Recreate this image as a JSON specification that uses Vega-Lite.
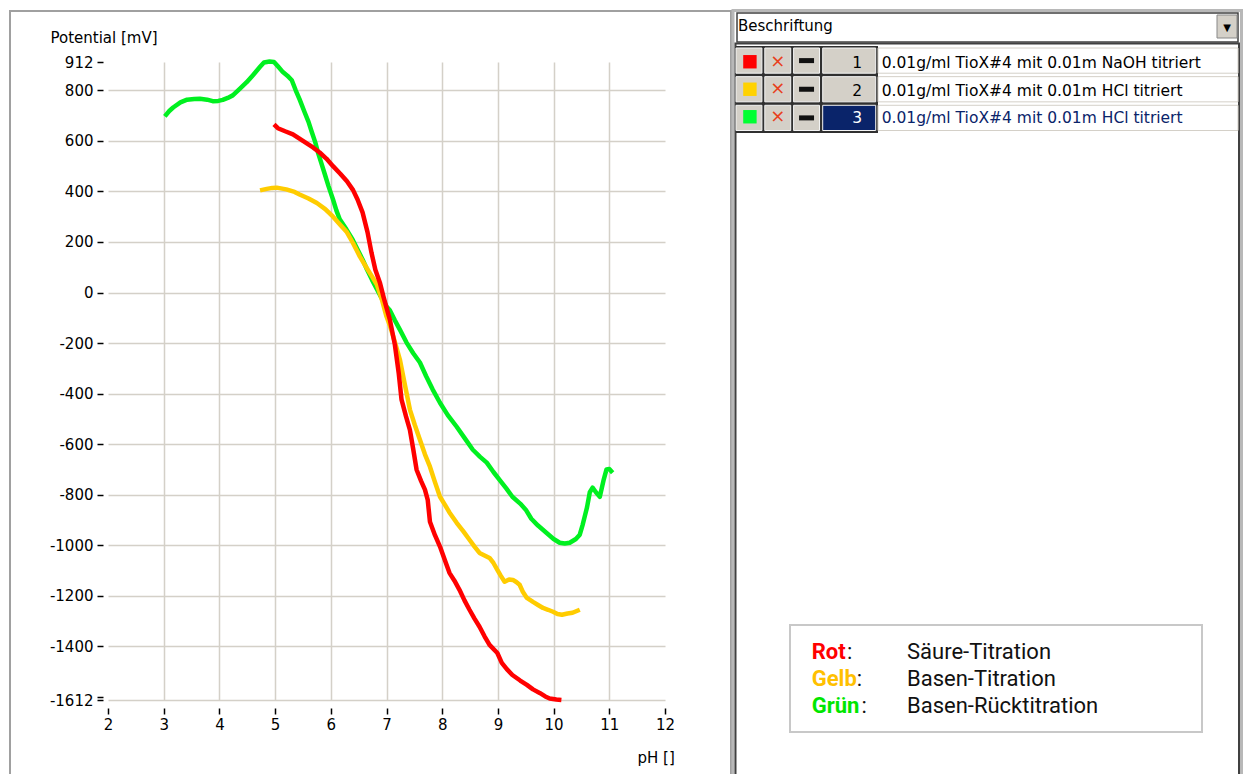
{
  "$schema": "https://vega.github.io/schema/vega-lite/v6.json",
  "autosize": {"type": "none"},
  "width": 557,
  "height": 638,
  "padding": {"left": 108, "top": 62, "right": 585, "bottom": 74},
  "background": "white",
  "config": {"view": {"stroke": null}, "font": "DejaVu Sans"},
  "datasets": {
    "messung": [
      {"Kurve":"Grün","pH":3.02,"Potential":697},{"Kurve":"Grün","pH":3.1,"Potential":718},{"Kurve":"Grün","pH":3.17,"Potential":732},{"Kurve":"Grün","pH":3.3,"Potential":752},{"Kurve":"Grün","pH":3.42,"Potential":763},{"Kurve":"Grün","pH":3.55,"Potential":766},{"Kurve":"Grün","pH":3.65,"Potential":767},{"Kurve":"Grün","pH":3.78,"Potential":763},{"Kurve":"Grün","pH":3.88,"Potential":757},{"Kurve":"Grün","pH":3.98,"Potential":758},{"Kurve":"Grün","pH":4.06,"Potential":762},{"Kurve":"Grün","pH":4.15,"Potential":770},{"Kurve":"Grün","pH":4.24,"Potential":780},{"Kurve":"Grün","pH":4.36,"Potential":805},{"Kurve":"Grün","pH":4.49,"Potential":832},{"Kurve":"Grün","pH":4.61,"Potential":862},{"Kurve":"Grün","pH":4.73,"Potential":893},{"Kurve":"Grün","pH":4.8,"Potential":910},{"Kurve":"Grün","pH":4.9,"Potential":914},{"Kurve":"Grün","pH":4.98,"Potential":912},{"Kurve":"Grün","pH":5.05,"Potential":895},{"Kurve":"Grün","pH":5.14,"Potential":872},{"Kurve":"Grün","pH":5.22,"Potential":858},{"Kurve":"Grün","pH":5.3,"Potential":840},{"Kurve":"Grün","pH":5.37,"Potential":800},{"Kurve":"Grün","pH":5.44,"Potential":764},{"Kurve":"Grün","pH":5.53,"Potential":713},{"Kurve":"Grün","pH":5.6,"Potential":675},{"Kurve":"Grün","pH":5.66,"Potential":634},{"Kurve":"Grün","pH":5.72,"Potential":595},{"Kurve":"Grün","pH":5.77,"Potential":554},{"Kurve":"Grün","pH":5.83,"Potential":512},{"Kurve":"Grün","pH":5.89,"Potential":470},{"Kurve":"Grün","pH":5.96,"Potential":420},{"Kurve":"Grün","pH":6.04,"Potential":368},{"Kurve":"Grün","pH":6.1,"Potential":325},{"Kurve":"Grün","pH":6.16,"Potential":290},{"Kurve":"Grün","pH":6.28,"Potential":250},{"Kurve":"Grün","pH":6.39,"Potential":210},{"Kurve":"Grün","pH":6.48,"Potential":170},{"Kurve":"Grün","pH":6.57,"Potential":131},{"Kurve":"Grün","pH":6.65,"Potential":91},{"Kurve":"Grün","pH":6.74,"Potential":50},{"Kurve":"Grün","pH":6.83,"Potential":12},{"Kurve":"Grün","pH":6.92,"Potential":-25},{"Kurve":"Grün","pH":7.0,"Potential":-55},{"Kurve":"Grün","pH":7.06,"Potential":-70},{"Kurve":"Grün","pH":7.15,"Potential":-110},{"Kurve":"Grün","pH":7.24,"Potential":-147},{"Kurve":"Grün","pH":7.36,"Potential":-198},{"Kurve":"Grün","pH":7.48,"Potential":-240},{"Kurve":"Grün","pH":7.6,"Potential":-277},{"Kurve":"Grün","pH":7.71,"Potential":-330},{"Kurve":"Grün","pH":7.83,"Potential":-384},{"Kurve":"Grün","pH":7.96,"Potential":-436},{"Kurve":"Grün","pH":8.1,"Potential":-485},{"Kurve":"Grün","pH":8.26,"Potential":-531},{"Kurve":"Grün","pH":8.4,"Potential":-575},{"Kurve":"Grün","pH":8.55,"Potential":-622},{"Kurve":"Grün","pH":8.68,"Potential":-650},{"Kurve":"Grün","pH":8.8,"Potential":-673},{"Kurve":"Grün","pH":8.92,"Potential":-710},{"Kurve":"Grün","pH":9.03,"Potential":-741},{"Kurve":"Grün","pH":9.15,"Potential":-775},{"Kurve":"Grün","pH":9.26,"Potential":-808},{"Kurve":"Grün","pH":9.4,"Potential":-835},{"Kurve":"Grün","pH":9.5,"Potential":-859},{"Kurve":"Grün","pH":9.6,"Potential":-895},{"Kurve":"Grün","pH":9.72,"Potential":-922},{"Kurve":"Grün","pH":9.87,"Potential":-950},{"Kurve":"Grün","pH":10.0,"Potential":-975},{"Kurve":"Grün","pH":10.11,"Potential":-990},{"Kurve":"Grün","pH":10.2,"Potential":-993},{"Kurve":"Grün","pH":10.29,"Potential":-990},{"Kurve":"Grün","pH":10.4,"Potential":-975},{"Kurve":"Grün","pH":10.47,"Potential":-958},{"Kurve":"Grün","pH":10.52,"Potential":-920},{"Kurve":"Grün","pH":10.56,"Potential":-885},{"Kurve":"Grün","pH":10.6,"Potential":-850},{"Kurve":"Grün","pH":10.65,"Potential":-790},{"Kurve":"Grün","pH":10.7,"Potential":-772},{"Kurve":"Grün","pH":10.76,"Potential":-790},{"Kurve":"Grün","pH":10.83,"Potential":-808},{"Kurve":"Grün","pH":10.9,"Potential":-740},{"Kurve":"Grün","pH":10.95,"Potential":-700},{"Kurve":"Grün","pH":11.0,"Potential":-698},{"Kurve":"Grün","pH":11.06,"Potential":-713},
      {"Kurve":"Gelb","pH":4.73,"Potential":404},{"Kurve":"Gelb","pH":4.85,"Potential":410},{"Kurve":"Gelb","pH":4.95,"Potential":414},{"Kurve":"Gelb","pH":5.03,"Potential":415},{"Kurve":"Gelb","pH":5.2,"Potential":408},{"Kurve":"Gelb","pH":5.35,"Potential":398},{"Kurve":"Gelb","pH":5.44,"Potential":388},{"Kurve":"Gelb","pH":5.6,"Potential":372},{"Kurve":"Gelb","pH":5.75,"Potential":354},{"Kurve":"Gelb","pH":5.9,"Potential":330},{"Kurve":"Gelb","pH":6.04,"Potential":300},{"Kurve":"Gelb","pH":6.16,"Potential":270},{"Kurve":"Gelb","pH":6.29,"Potential":238},{"Kurve":"Gelb","pH":6.4,"Potential":195},{"Kurve":"Gelb","pH":6.52,"Potential":143},{"Kurve":"Gelb","pH":6.65,"Potential":95},{"Kurve":"Gelb","pH":6.75,"Potential":60},{"Kurve":"Gelb","pH":6.83,"Potential":30},{"Kurve":"Gelb","pH":6.92,"Potential":-30},{"Kurve":"Gelb","pH":7.0,"Potential":-95},{"Kurve":"Gelb","pH":7.06,"Potential":-130},{"Kurve":"Gelb","pH":7.15,"Potential":-195},{"Kurve":"Gelb","pH":7.24,"Potential":-265},{"Kurve":"Gelb","pH":7.33,"Potential":-365},{"Kurve":"Gelb","pH":7.42,"Potential":-463},{"Kurve":"Gelb","pH":7.51,"Potential":-525},{"Kurve":"Gelb","pH":7.6,"Potential":-582},{"Kurve":"Gelb","pH":7.69,"Potential":-640},{"Kurve":"Gelb","pH":7.78,"Potential":-689},{"Kurve":"Gelb","pH":7.87,"Potential":-750},{"Kurve":"Gelb","pH":7.96,"Potential":-808},{"Kurve":"Gelb","pH":8.05,"Potential":-840},{"Kurve":"Gelb","pH":8.13,"Potential":-870},{"Kurve":"Gelb","pH":8.26,"Potential":-911},{"Kurve":"Gelb","pH":8.38,"Potential":-945},{"Kurve":"Gelb","pH":8.49,"Potential":-978},{"Kurve":"Gelb","pH":8.58,"Potential":-1005},{"Kurve":"Gelb","pH":8.67,"Potential":-1030},{"Kurve":"Gelb","pH":8.76,"Potential":-1040},{"Kurve":"Gelb","pH":8.85,"Potential":-1050},{"Kurve":"Gelb","pH":8.92,"Potential":-1070},{"Kurve":"Gelb","pH":8.99,"Potential":-1097},{"Kurve":"Gelb","pH":9.05,"Potential":-1120},{"Kurve":"Gelb","pH":9.12,"Potential":-1144},{"Kurve":"Gelb","pH":9.2,"Potential":-1135},{"Kurve":"Gelb","pH":9.27,"Potential":-1137},{"Kurve":"Gelb","pH":9.33,"Potential":-1145},{"Kurve":"Gelb","pH":9.39,"Potential":-1156},{"Kurve":"Gelb","pH":9.45,"Potential":-1185},{"Kurve":"Gelb","pH":9.52,"Potential":-1208},{"Kurve":"Gelb","pH":9.63,"Potential":-1224},{"Kurve":"Gelb","pH":9.72,"Potential":-1236},{"Kurve":"Gelb","pH":9.81,"Potential":-1248},{"Kurve":"Gelb","pH":9.9,"Potential":-1255},{"Kurve":"Gelb","pH":9.99,"Potential":-1263},{"Kurve":"Gelb","pH":10.07,"Potential":-1272},{"Kurve":"Gelb","pH":10.15,"Potential":-1275},{"Kurve":"Gelb","pH":10.25,"Potential":-1270},{"Kurve":"Gelb","pH":10.34,"Potential":-1267},{"Kurve":"Gelb","pH":10.47,"Potential":-1255},
      {"Kurve":"Rot","pH":4.98,"Potential":665},{"Kurve":"Rot","pH":5.05,"Potential":650},{"Kurve":"Rot","pH":5.18,"Potential":638},{"Kurve":"Rot","pH":5.32,"Potential":626},{"Kurve":"Rot","pH":5.5,"Potential":600},{"Kurve":"Rot","pH":5.68,"Potential":574},{"Kurve":"Rot","pH":5.8,"Potential":554},{"Kurve":"Rot","pH":5.92,"Potential":530},{"Kurve":"Rot","pH":6.04,"Potential":500},{"Kurve":"Rot","pH":6.17,"Potential":470},{"Kurve":"Rot","pH":6.29,"Potential":440},{"Kurve":"Rot","pH":6.4,"Potential":405},{"Kurve":"Rot","pH":6.48,"Potential":368},{"Kurve":"Rot","pH":6.57,"Potential":317},{"Kurve":"Rot","pH":6.66,"Potential":238},{"Kurve":"Rot","pH":6.73,"Potential":158},{"Kurve":"Rot","pH":6.8,"Potential":90},{"Kurve":"Rot","pH":6.88,"Potential":40},{"Kurve":"Rot","pH":6.95,"Potential":-20},{"Kurve":"Rot","pH":7.06,"Potential":-107},{"Kurve":"Rot","pH":7.15,"Potential":-206},{"Kurve":"Rot","pH":7.22,"Potential":-320},{"Kurve":"Rot","pH":7.27,"Potential":-424},{"Kurve":"Rot","pH":7.35,"Potential":-490},{"Kurve":"Rot","pH":7.42,"Potential":-543},{"Kurve":"Rot","pH":7.48,"Potential":-620},{"Kurve":"Rot","pH":7.54,"Potential":-701},{"Kurve":"Rot","pH":7.62,"Potential":-745},{"Kurve":"Rot","pH":7.69,"Potential":-780},{"Kurve":"Rot","pH":7.74,"Potential":-820},{"Kurve":"Rot","pH":7.78,"Potential":-907},{"Kurve":"Rot","pH":7.87,"Potential":-960},{"Kurve":"Rot","pH":7.96,"Potential":-1005},{"Kurve":"Rot","pH":8.05,"Potential":-1060},{"Kurve":"Rot","pH":8.13,"Potential":-1109},{"Kurve":"Rot","pH":8.22,"Potential":-1140},{"Kurve":"Rot","pH":8.31,"Potential":-1176},{"Kurve":"Rot","pH":8.4,"Potential":-1218},{"Kurve":"Rot","pH":8.49,"Potential":-1255},{"Kurve":"Rot","pH":8.58,"Potential":-1290},{"Kurve":"Rot","pH":8.67,"Potential":-1322},{"Kurve":"Rot","pH":8.76,"Potential":-1360},{"Kurve":"Rot","pH":8.85,"Potential":-1394},{"Kurve":"Rot","pH":8.99,"Potential":-1426},{"Kurve":"Rot","pH":9.07,"Potential":-1465},{"Kurve":"Rot","pH":9.16,"Potential":-1490},{"Kurve":"Rot","pH":9.26,"Potential":-1513},{"Kurve":"Rot","pH":9.4,"Potential":-1535},{"Kurve":"Rot","pH":9.52,"Potential":-1552},{"Kurve":"Rot","pH":9.63,"Potential":-1570},{"Kurve":"Rot","pH":9.75,"Potential":-1584},{"Kurve":"Rot","pH":9.85,"Potential":-1598},{"Kurve":"Rot","pH":9.93,"Potential":-1606},{"Kurve":"Rot","pH":10.05,"Potential":-1610},{"Kurve":"Rot","pH":10.14,"Potential":-1612}
    ],
    "tabelle": [
      {"nr":"1","text":"0.01g/ml TioX#4 mit 0.01m NaOH titriert","kurve":"Rot"},
      {"nr":"2","text":"0.01g/ml TioX#4 mit 0.01m HCl titriert","kurve":"Gelb"},
      {"nr":"3","text":"0.01g/ml TioX#4 mit 0.01m HCl titriert","kurve":"Grün"}
    ],
    "knoepfe": [
      {"nr":"1","knopf":"Farbe"},{"nr":"1","knopf":"Löschen"},{"nr":"1","knopf":"Ausblenden"},
      {"nr":"2","knopf":"Farbe"},{"nr":"2","knopf":"Löschen"},{"nr":"2","knopf":"Ausblenden"},
      {"nr":"3","knopf":"Farbe"},{"nr":"3","knopf":"Löschen"},{"nr":"3","knopf":"Ausblenden"}
    ],
    "legende": [
      {"farbe":"Rot","beschreibung":"Säure-Titration"},
      {"farbe":"Gelb","beschreibung":"Basen-Titration"},
      {"farbe":"Grün","beschreibung":"Basen-Rücktitration"}
    ]
  },
  "resolve": {"scale": {"x": "independent", "y": "independent", "color": "independent", "stroke": "independent"}},
  "layer": [
    {
      "data": {"name": "messung"},
      "mark": {"type": "line", "strokeWidth": 4.5, "strokeJoin": "round", "strokeCap": "butt"},
      "encoding": {
        "x": {"field": "pH", "type": "quantitative",
          "scale": {"domain": [2, 12], "nice": false, "zero": false},
          "axis": {"orient": "bottom", "values": [2,3,4,5,6,7,8,9,10,11,12], "labelExpr": "'' + datum.value",
            "title": "pH []", "titleX": 529, "titleY": 54, "titleAlign": "left", "titleBaseline": "alphabetic",
            "titleFont": "DejaVu Sans", "titleFontSize": 15, "titleFontWeight": "normal", "titleColor": "#000",
            "offset": 8, "tickSize": 6, "tickWidth": 1.5, "tickColor": "#000", "domain": false,
            "labelPadding": 3, "labelFont": "DejaVu Sans", "labelFontSize": 15, "labelColor": "#000",
            "labelFlush": false, "labelOverlap": false, "labelBound": false,
            "grid": true, "gridColor": "#d4d0c8", "gridWidth": 1.5,
            "gridOpacity": {"condition": {"test": "datum.value == 2 || datum.value == 12", "value": 0}, "value": 1}}},
        "y": {"field": "Potential", "type": "quantitative",
          "scale": {"domain": [-1612, 912], "nice": false, "zero": false},
          "axis": {"orient": "left", "values": [912,800,600,400,200,0,-200,-400,-600,-800,-1000,-1200,-1400,-1600,-1612],
            "labelExpr": "datum.value == -1600 ? '' : '' + datum.value",
            "title": "Potential [mV]", "titleAngle": 0, "titleX": -53, "titleY": -20, "titleAlign": "left", "titleBaseline": "alphabetic",
            "titleFont": "DejaVu Sans", "titleFontSize": 15, "titleFontWeight": "normal", "titleColor": "#000",
            "offset": 5, "tickSize": 6, "tickWidth": 1.5, "tickColor": "#000", "domain": false,
            "labelPadding": 4, "labelFont": "DejaVu Sans", "labelFontSize": 15, "labelColor": "#000",
            "labelFlush": false, "labelOverlap": false, "labelBound": false,
            "grid": true, "gridColor": "#d4d0c8", "gridWidth": 1.5,
            "gridOpacity": {"condition": {"test": "datum.value == 912 || datum.value == -1600", "value": 0}, "value": 1}}},
        "color": {"field": "Kurve", "type": "nominal",
          "scale": {"domain": ["Rot", "Gelb", "Grün"], "range": ["#ff0000", "#ffcc00", "#00f020"]}, "legend": null}
      }
    },
    {
      "data": {"values": [{}]},
      "mark": {"type": "rect", "fill": "transparent", "stroke": "#a0a0a0", "strokeWidth": 2},
      "encoding": {
        "x": {"datum": "Diagrammbereich", "type": "nominal", "axis": null, "scale": {"range": [-98, 623], "paddingInner": 0, "paddingOuter": 0}},
        "y": {"datum": "Diagrammbereich", "type": "nominal", "axis": null, "scale": {"range": [-51, 738], "paddingInner": 0, "paddingOuter": 0}}
      }
    },
    {
      "data": {"values": [{}]},
      "mark": {"type": "rect", "fill": "transparent", "stroke": "#b8b8b8", "strokeWidth": 3},
      "encoding": {
        "x": {"datum": "Beschriftungsbereich", "type": "nominal", "axis": null, "scale": {"range": [625, 1133.5], "paddingInner": 0, "paddingOuter": 0}},
        "y": {"datum": "Beschriftungsbereich", "type": "nominal", "axis": null, "scale": {"range": [-51.5, 738], "paddingInner": 0, "paddingOuter": 0}}
      }
    },
    {
      "data": {"values": [{}]},
      "mark": {"type": "rect", "fill": "transparent", "stroke": "#404040", "strokeWidth": 2},
      "encoding": {
        "x": {"datum": "Liste", "type": "nominal", "axis": null, "scale": {"range": [627.5, 1131], "paddingInner": 0, "paddingOuter": 0}},
        "y": {"datum": "Liste", "type": "nominal", "axis": null, "scale": {"range": [-18.5, 738], "paddingInner": 0, "paddingOuter": 0}}
      }
    },
    {
      "data": {"values": [{}]},
      "mark": {"type": "rect", "fill": "white", "stroke": "#404040", "strokeWidth": 1.5},
      "encoding": {
        "x": {"datum": "Auswahl", "type": "nominal", "axis": null, "scale": {"range": [629, 1130], "paddingInner": 0, "paddingOuter": 0}},
        "y": {"datum": "Auswahl", "type": "nominal", "axis": null, "scale": {"range": [-49, -20], "paddingInner": 0, "paddingOuter": 0}}
      }
    },
    {
      "data": {"values": [{}]},
      "mark": {"type": "rect", "fill": "#d4d0c8", "stroke": "#888888", "strokeWidth": 1},
      "encoding": {
        "x": {"datum": "Knopf", "type": "nominal", "axis": null, "scale": {"range": [1109, 1129], "paddingInner": 0, "paddingOuter": 0}},
        "y": {"datum": "Knopf", "type": "nominal", "axis": null, "scale": {"range": [-47, -24], "paddingInner": 0, "paddingOuter": 0}}
      }
    },
    {
      "data": {"values": [{}]},
      "mark": {"type": "text", "text": "▼", "fontSize": 10, "color": "#000", "baseline": "middle", "align": "center"},
      "encoding": {
        "x": {"datum": "Knopf", "type": "nominal", "axis": null, "scale": {"range": [1118, 1120], "paddingInner": 0, "paddingOuter": 0}},
        "y": {"datum": "Knopf", "type": "nominal", "axis": null, "scale": {"range": [-35.5, -33.5], "paddingInner": 0, "paddingOuter": 0}}
      }
    },
    {
      "data": {"values": [{}]},
      "mark": {"type": "text", "text": "Beschriftung", "font": "DejaVu Sans", "fontSize": 15, "color": "#000", "baseline": "alphabetic", "align": "left"},
      "encoding": {
        "x": {"datum": "Auswahl", "type": "nominal", "axis": null, "scale": {"range": [629, 631], "paddingInner": 0, "paddingOuter": 0}},
        "y": {"datum": "Auswahl", "type": "nominal", "axis": null, "scale": {"range": [-32.3, -30.3], "paddingInner": 0, "paddingOuter": 0}}
      }
    },
    {
      "data": {"values": [{}]},
      "mark": {"type": "rect", "fill": "#303030"},
      "encoding": {
        "x": {"datum": "Tabelle", "type": "nominal", "axis": null, "scale": {"range": [628, 770], "paddingInner": 0, "paddingOuter": 0}},
        "y": {"datum": "Tabelle", "type": "nominal", "axis": null, "scale": {"range": [-16, 71], "paddingInner": 0, "paddingOuter": 0}}
      }
    },
    {
      "data": {"name": "tabelle"},
      "mark": {"type": "rect", "fill": "white", "stroke": "#d4d0c8", "strokeWidth": 1},
      "encoding": {
        "x": {"datum": "Beschreibung", "type": "nominal", "axis": null, "scale": {"range": [770, 1130], "paddingInner": 0, "paddingOuter": 0}},
        "y": {"field": "nr", "type": "nominal", "axis": null, "scale": {"range": [-14, 68.5], "paddingInner": 0.12, "paddingOuter": 0}}
      }
    },
    {
      "data": {"name": "knoepfe"},
      "mark": {"type": "rect", "fill": "#d4d0c8", "stroke": "#f4f4f4", "strokeWidth": 1},
      "encoding": {
        "x": {"field": "knopf", "type": "nominal", "axis": null, "scale": {"domain": ["Farbe", "Löschen", "Ausblenden"], "range": [628, 711.5], "paddingInner": 0.1, "paddingOuter": 0}},
        "y": {"field": "nr", "type": "nominal", "axis": null, "scale": {"range": [-14, 68.5], "paddingInner": 0.12, "paddingOuter": 0}}
      }
    },
    {
      "data": {"name": "tabelle"},
      "mark": {"type": "rect", "stroke": "#f4f4f4", "strokeWidth": 1},
      "encoding": {
        "x": {"datum": "Nummer", "type": "nominal", "axis": null, "scale": {"range": [714.7, 767.7], "paddingInner": 0, "paddingOuter": 0}},
        "y": {"field": "nr", "type": "nominal", "axis": null, "scale": {"range": [-14, 68.5], "paddingInner": 0.12, "paddingOuter": 0}},
        "color": {"condition": {"test": "datum.nr === '3'", "value": "#0a246a"}, "value": "#d4d0c8"}
      }
    },
    {
      "data": {"name": "tabelle"},
      "mark": {"type": "square", "size": 180, "opacity": 1, "filled": true},
      "encoding": {
        "x": {"datum": "Farbe", "type": "nominal", "axis": null, "scale": {"domain": ["Farbe", "Löschen", "Ausblenden"], "range": [628, 711.5], "paddingInner": 0.1, "paddingOuter": 0}},
        "y": {"field": "nr", "type": "nominal", "axis": null, "scale": {"range": [-14, 68.5], "paddingInner": 0.12, "paddingOuter": 0}},
        "color": {"field": "kurve", "type": "nominal", "scale": {"domain": ["Rot", "Gelb", "Grün"], "range": ["#ff0000", "#ffd200", "#00ff33"]}, "legend": null}
      }
    },
    {
      "data": {"name": "tabelle"},
      "mark": {"type": "text", "text": "×", "fontSize": 18, "color": "#e8401c", "baseline": "middle", "align": "center"},
      "encoding": {
        "x": {"datum": "Löschen", "type": "nominal", "axis": null, "scale": {"domain": ["Farbe", "Löschen", "Ausblenden"], "range": [628, 711.5], "paddingInner": 0.1, "paddingOuter": 0}},
        "y": {"field": "nr", "type": "nominal", "axis": null, "scale": {"range": [-14, 68.5], "paddingInner": 0.12, "paddingOuter": 0}}
      }
    },
    {
      "data": {"name": "tabelle"},
      "mark": {"type": "tick", "orient": "horizontal", "size": 15, "thickness": 5, "color": "#111111", "opacity": 1},
      "encoding": {
        "x": {"datum": "Ausblenden", "type": "nominal", "axis": null, "scale": {"domain": ["Farbe", "Löschen", "Ausblenden"], "range": [628, 711.5], "paddingInner": 0.1, "paddingOuter": 0}},
        "y": {"field": "nr", "type": "nominal", "axis": null, "scale": {"range": [-14, 68.5], "paddingInner": 0.12, "paddingOuter": 0}}
      }
    },
    {
      "data": {"name": "tabelle"},
      "mark": {"type": "text", "font": "DejaVu Sans", "fontSize": 15.5, "baseline": "alphabetic", "align": "right", "dy": 6.5},
      "encoding": {
        "x": {"datum": "Nummer", "type": "nominal", "axis": null, "scale": {"range": [753, 755], "paddingInner": 0, "paddingOuter": 0}},
        "y": {"field": "nr", "type": "nominal", "axis": null, "scale": {"range": [-14, 68.5], "paddingInner": 0.12, "paddingOuter": 0}},
        "text": {"field": "nr"},
        "color": {"condition": {"test": "datum.nr === '3'", "value": "#ffffff"}, "value": "#000000"}
      }
    },
    {
      "data": {"name": "tabelle"},
      "mark": {"type": "text", "font": "DejaVu Sans", "fontSize": 15.5, "baseline": "alphabetic", "align": "left", "dy": 6.5},
      "encoding": {
        "x": {"datum": "Beschreibung", "type": "nominal", "axis": null, "scale": {"range": [772.7, 774.7], "paddingInner": 0, "paddingOuter": 0}},
        "y": {"field": "nr", "type": "nominal", "axis": null, "scale": {"range": [-14, 68.5], "paddingInner": 0.12, "paddingOuter": 0}},
        "text": {"field": "text"},
        "color": {"condition": {"test": "datum.nr === '3'", "value": "#0a246a"}, "value": "#000000"}
      }
    },
    {
      "data": {"values": [{}]},
      "mark": {"type": "rect", "fill": "white", "stroke": "#c8c8c8", "strokeWidth": 2},
      "encoding": {
        "x": {"datum": "Legende", "type": "nominal", "axis": null, "scale": {"range": [682, 1094], "paddingInner": 0, "paddingOuter": 0}},
        "y": {"datum": "Legende", "type": "nominal", "axis": null, "scale": {"range": [563, 670], "paddingInner": 0, "paddingOuter": 0}}
      }
    },
    {
      "data": {"name": "legende"},
      "mark": {"type": "text", "font": "Roboto", "fontSize": 22, "fontWeight": "bold", "baseline": "alphabetic", "align": "left"},
      "encoding": {
        "x": {"datum": "Farbe", "type": "nominal", "axis": null, "scale": {"range": [702.7, 704.7], "paddingInner": 0, "paddingOuter": 0}},
        "y": {"field": "farbe", "type": "nominal", "axis": null, "scale": {"domain": ["Rot", "Gelb", "Grün"], "range": [583.8, 664.8], "paddingInner": 0, "paddingOuter": 0}},
        "text": {"field": "farbe"},
        "color": {"field": "farbe", "type": "nominal", "scale": {"domain": ["Rot", "Gelb", "Grün"], "range": ["#ff0000", "#ffc000", "#00e600"]}, "legend": null}
      }
    },
    {
      "data": {"name": "legende"},
      "mark": {"type": "text", "text": ":", "font": "Roboto", "fontSize": 22, "color": "#111111", "baseline": "alphabetic", "align": "left"},
      "encoding": {
        "x": {"field": "farbe", "type": "nominal", "axis": null, "scale": {"type": "point", "domain": ["Rot", "·", "Gelb", "Grün"], "range": [739, 753.5], "padding": 0}},
        "y": {"field": "farbe", "type": "nominal", "axis": null, "scale": {"domain": ["Rot", "Gelb", "Grün"], "range": [583.8, 664.8], "paddingInner": 0, "paddingOuter": 0}}
      }
    },
    {
      "data": {"name": "legende"},
      "mark": {"type": "text", "font": "Roboto", "fontSize": 22, "color": "#111111", "baseline": "alphabetic", "align": "left"},
      "encoding": {
        "x": {"datum": "Beschreibung", "type": "nominal", "axis": null, "scale": {"range": [798, 800], "paddingInner": 0, "paddingOuter": 0}},
        "y": {"field": "farbe", "type": "nominal", "axis": null, "scale": {"domain": ["Rot", "Gelb", "Grün"], "range": [583.8, 664.8], "paddingInner": 0, "paddingOuter": 0}},
        "text": {"field": "beschreibung"}
      }
    }
  ]
}
